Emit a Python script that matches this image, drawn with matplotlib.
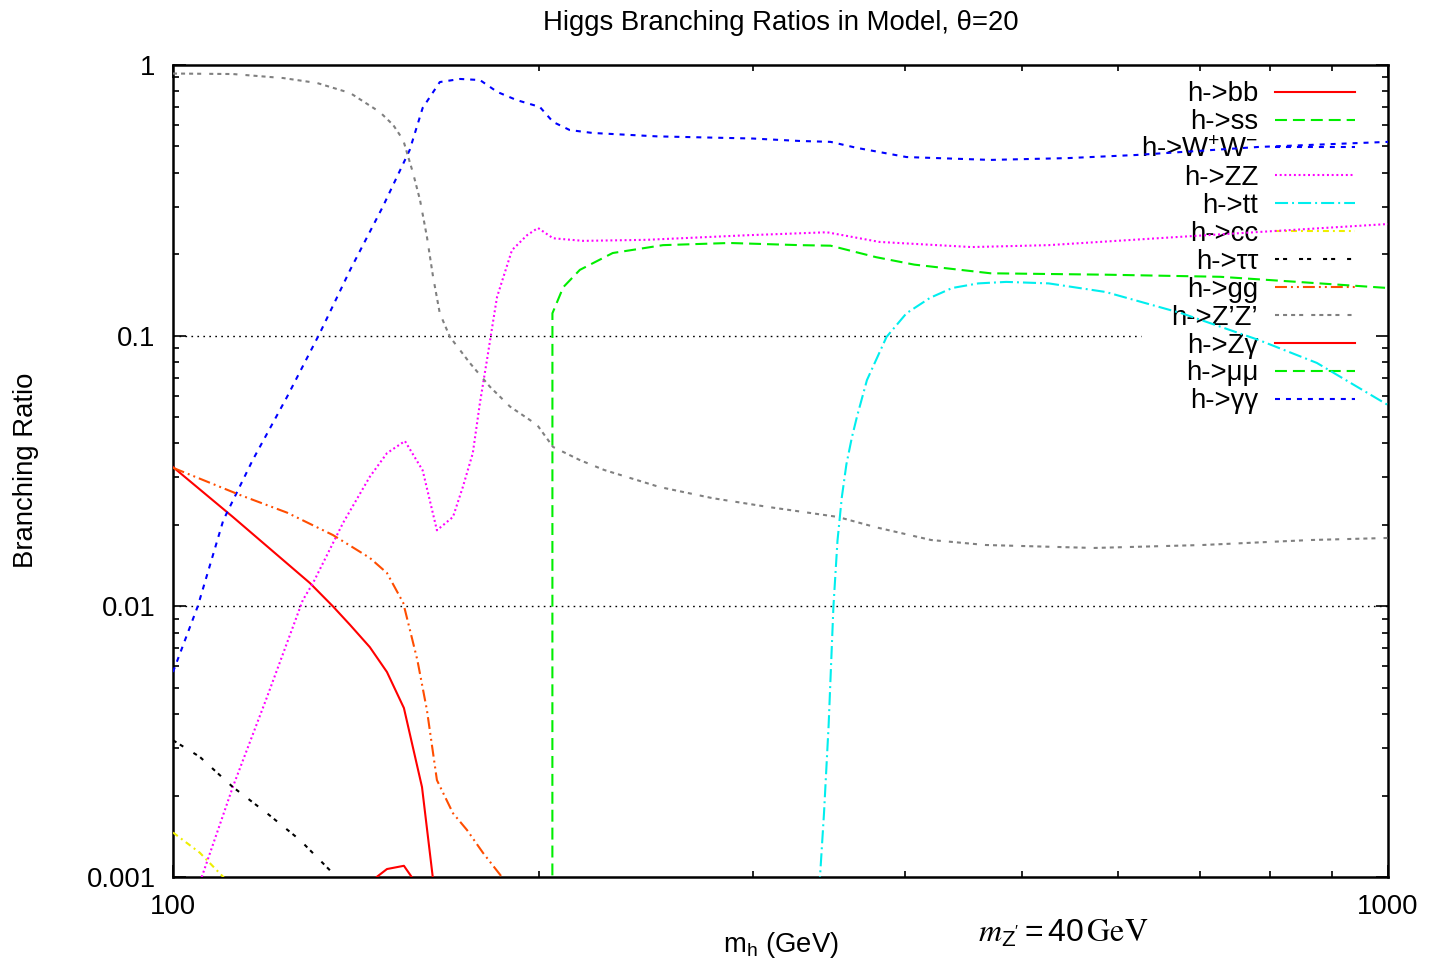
import matplotlib
matplotlib.use("Agg")
import matplotlib.pyplot as plt
from matplotlib.ticker import FixedLocator, LogLocator, NullFormatter

plt.rcParams["font.family"] = ["Liberation Sans", "DejaVu Sans"]
plt.rcParams["mathtext.fontset"] = "custom"
plt.rcParams["mathtext.rm"] = "Liberation Sans"
plt.rcParams["mathtext.it"] = "Liberation Sans:italic"
plt.rcParams["mathtext.default"] = "regular"
plt.rcParams["lines.scale_dashes"] = False

# Higgs mass (GeV) and branching ratios
bb_m = [100, 112, 129.6, 135.4, 139.9, 145.2, 150, 154.9, 160.3, 163.6, 166]
bb_br = [0.0327, 0.0214, 0.0122, 0.0100, 0.00853, 0.00707, 0.00572, 0.00421, 0.00215, 0.0010, 0.0005]

ss_m = [205.2, 205.25, 209.5, 216.2, 230.1, 253.1, 287.1, 327.9, 347.7, 379, 407.5, 470.9, 585.6, 727.9, 842.4, 1000]
ss_br = [1e-6, 0.121, 0.151, 0.175, 0.202, 0.216, 0.220, 0.216, 0.215, 0.195, 0.183, 0.170, 0.168, 0.165, 0.158, 0.150]

ww_m = [100, 104.8, 110, 116.3, 124.1, 132.1, 139.9, 148.8, 156.6, 160.5, 165.8, 172.3, 178.9, 184.9, 191.8,
        200.4, 205.5, 212.1, 221.4, 250, 300, 327.9, 347.7, 365.5, 401.5, 470.9, 545.4, 620, 782.6, 1000]
ww_br = [0.00572, 0.0100, 0.0208, 0.0347, 0.0593, 0.1023, 0.175, 0.299, 0.485, 0.694, 0.865, 0.888, 0.880, 0.795, 0.742,
         0.700, 0.616, 0.575, 0.561, 0.545, 0.535, 0.524, 0.520, 0.494, 0.457, 0.446, 0.453, 0.465, 0.498, 0.520]

zz_m = [103, 105.6, 112, 119.5, 127.9, 130.4, 138, 145.2, 150, 155.2, 160.5, 164.9, 170, 173.2, 176.5, 178.9,
        181.3, 183.5, 184.8, 190.1, 195.6, 199.7, 205.5, 217.6, 245.4, 296.9, 345.3, 381.4, 454.2, 525.7, 676.3, 1000]
zz_br = [0.0006, 0.001, 0.00215, 0.00462, 0.01055, 0.0122, 0.0203, 0.0301, 0.0368, 0.0408, 0.0318, 0.0191, 0.0214,
         0.0276, 0.0368, 0.0564, 0.0813, 0.1143, 0.139, 0.207, 0.235, 0.250, 0.229, 0.224, 0.226, 0.235, 0.241,
         0.222, 0.2125, 0.216, 0.232, 0.2585]

tt_m = [339.5, 340.8, 343.4, 346.4, 349.6, 352.3, 355.2, 358.3, 362, 365.5, 372.5, 386.6, 401.5, 419.9, 437.8,
        460, 485.1, 525.7, 585.6, 676.3, 782.6, 873.9, 1000]
tt_br = [0.0005, 0.001, 0.00172, 0.00361, 0.01, 0.0175, 0.0253, 0.0335, 0.042, 0.0501, 0.0685, 0.0989, 0.121,
         0.138, 0.150, 0.156, 0.158, 0.156, 0.145, 0.121, 0.0964, 0.0793, 0.0554]

cc_m = [100, 105.2, 110, 115]
cc_br = [0.00146, 0.00123, 0.0010, 0.0008]

tautau_m = [100, 105.2, 112, 119.5, 127.2, 134.6, 140]
tautau_br = [0.0032, 0.00278, 0.00215, 0.00172, 0.00137, 0.00106, 0.00088]

gg_m = [100, 113.5, 124.1, 135.4, 145.2, 150, 154.7, 157.2, 158.9, 161.8, 164.9, 170, 174.6, 179.9, 186.5, 190]
gg_br = [0.0325, 0.0258, 0.0222, 0.01834, 0.0151, 0.01328, 0.0103, 0.0077, 0.00633, 0.00414, 0.00228, 0.00172,
         0.00149, 0.00123, 0.0010, 0.0008]

zpzp_m = [100, 112, 123.2, 131.4, 139.9, 148, 151.8, 154.7, 157.6, 159.7, 161.8, 163.7, 165.8, 169, 175.5, 182.3,
          189.4, 199.4, 205.5, 216.2, 226.4, 251.4, 278, 308.7, 352.4, 378.8, 420.7, 466.5, 572.5, 703.8, 863.7, 1000]
zpzp_br = [0.93, 0.926, 0.895, 0.858, 0.788, 0.670, 0.600, 0.528, 0.399, 0.317, 0.232, 0.165, 0.121, 0.099, 0.0793,
           0.0648, 0.0547, 0.0468, 0.0388, 0.0347, 0.0319, 0.0276, 0.0251, 0.0233, 0.0214, 0.0196, 0.01758, 0.01685,
           0.01643, 0.01685, 0.01758, 0.01789]

zgam_m = [140, 147.1, 150, 154.9, 157.2, 160]
zgam_br = [0.0007, 0.001, 0.00107, 0.0011, 0.001, 0.0007]

# these two stay below the plotted range
mumu_m = [100, 150, 200]
mumu_br = [0.0001, 0.00005, 0.00002]
gamgam_m = [100, 150, 200]
gamgam_br = [0.0005, 0.0003, 0.0001]

series = [
    ("h->bb", bb_m, bb_br, "#ff0000", "-"),
    ("h->ss", ss_m, ss_br, "#00ee00", (0, (8.6, 4.3))),
    ("h->W$^{+}$W$^{-}$", ww_m, ww_br, "#0000ff", (0, (3.6, 4.3))),
    ("h->ZZ", zz_m, zz_br, "#ff00ff", (0, (1.4, 2.0))),
    ("h->tt", tt_m, tt_br, "#00eeee", (0, (9.4, 2.9, 1.4, 2.9))),
    ("h->cc", cc_m, cc_br, "#eeee00", (0, (4.3, 2.9, 1.4, 2.9))),
    ("h->\u03c4\u03c4", tautau_m, tautau_br, "#000000", (0, (2.9, 2.9, 2.9, 8.6))),
    ("h->gg", gg_m, gg_br, "#ff4d00", (0, (8.6, 2.9, 1.4, 2.9, 1.4, 2.9))),
    ("h->Z\u2019Z\u2019", zpzp_m, zpzp_br, "#808080", (0, (2.9, 2.9, 2.9, 2.9, 2.9, 2.9, 2.9, 5.8))),
    ("h->Z\u03b3", zgam_m, zgam_br, "#ff0000", "-"),
    ("h->\u03bc\u03bc", mumu_m, mumu_br, "#00ee00", (0, (8.6, 4.3))),
    ("h->\u03b3\u03b3", gamgam_m, gamgam_br, "#0000ff", (0, (3.6, 4.3))),
]

fig = plt.figure(figsize=(14.32, 9.64), dpi=100)
ax = fig.add_axes([173 / 1432, 1 - 877 / 964, 1215 / 1432, 812 / 964])

for label, m, br, color, ls in series:
    ax.plot(m, br, color=color, linestyle=ls, lw=1.5, label=label, zorder=3)

ax.set_xscale("log")
ax.set_yscale("log")
ax.set_xlim(100, 1000)
ax.set_ylim(0.001, 1)

ax.axhline(0.1, xmax=0.797, color="black", lw=1.0, linestyle=(0, (1.2, 3.1)), zorder=1)
ax.axhline(0.01, color="black", lw=1.0, linestyle=(0, (1.2, 3.1)), zorder=1)

ax.xaxis.set_major_locator(FixedLocator([100, 1000]))
ax.set_xticklabels(["100", "1000"])
ax.xaxis.set_minor_locator(FixedLocator([200, 300, 400, 500, 600, 700, 800, 900]))
ax.xaxis.set_minor_formatter(NullFormatter())
ax.yaxis.set_major_locator(FixedLocator([0.001, 0.01, 0.1, 1]))
ax.set_yticklabels(["0.001", "0.01", "0.1", "1"])
ax.yaxis.set_minor_locator(LogLocator(base=10, subs=range(2, 10)))
ax.yaxis.set_minor_formatter(NullFormatter())

ax.tick_params(which="both", direction="in", top=True, right=True, width=1.2, labelsize=19.8, pad=12.5)
ax.tick_params(which="major", length=9)
ax.tick_params(which="minor", length=4.3)
for sp in ax.spines.values():
    sp.set_linewidth(1.8)

leg = ax.legend(loc="upper right", bbox_to_anchor=(0.9728, 0.980), frameon=False, markerfirst=False,
                fontsize=19.8, handlelength=2.9, handletextpad=0.62, labelspacing=0.07,
                borderpad=0, borderaxespad=0)
leg.set_zorder(2)

fig.text(0.545, 1 - 23 / 964, "Higgs Branching Ratios in Model, \u03b8=20", ha="center", va="center", fontsize=19.8)
fig.text(26 / 1432, 1 - 470 / 964, "Branching Ratio", rotation=90, ha="center", va="center", fontsize=19.8)
fig.text(0.545, 1 - 952 / 964, r"m$_\mathrm{h}$ (GeV)", ha="center", va="baseline", fontsize=19.8)
fig.text(1063 / 1432, 1 - 942 / 964, r"$\mathit{m}_{Z^{\prime}} = 40\,\mathrm{GeV}$", ha="center", va="baseline",
         fontsize=23, math_fontfamily="stix")

fig.savefig("out.png", dpi=100)
